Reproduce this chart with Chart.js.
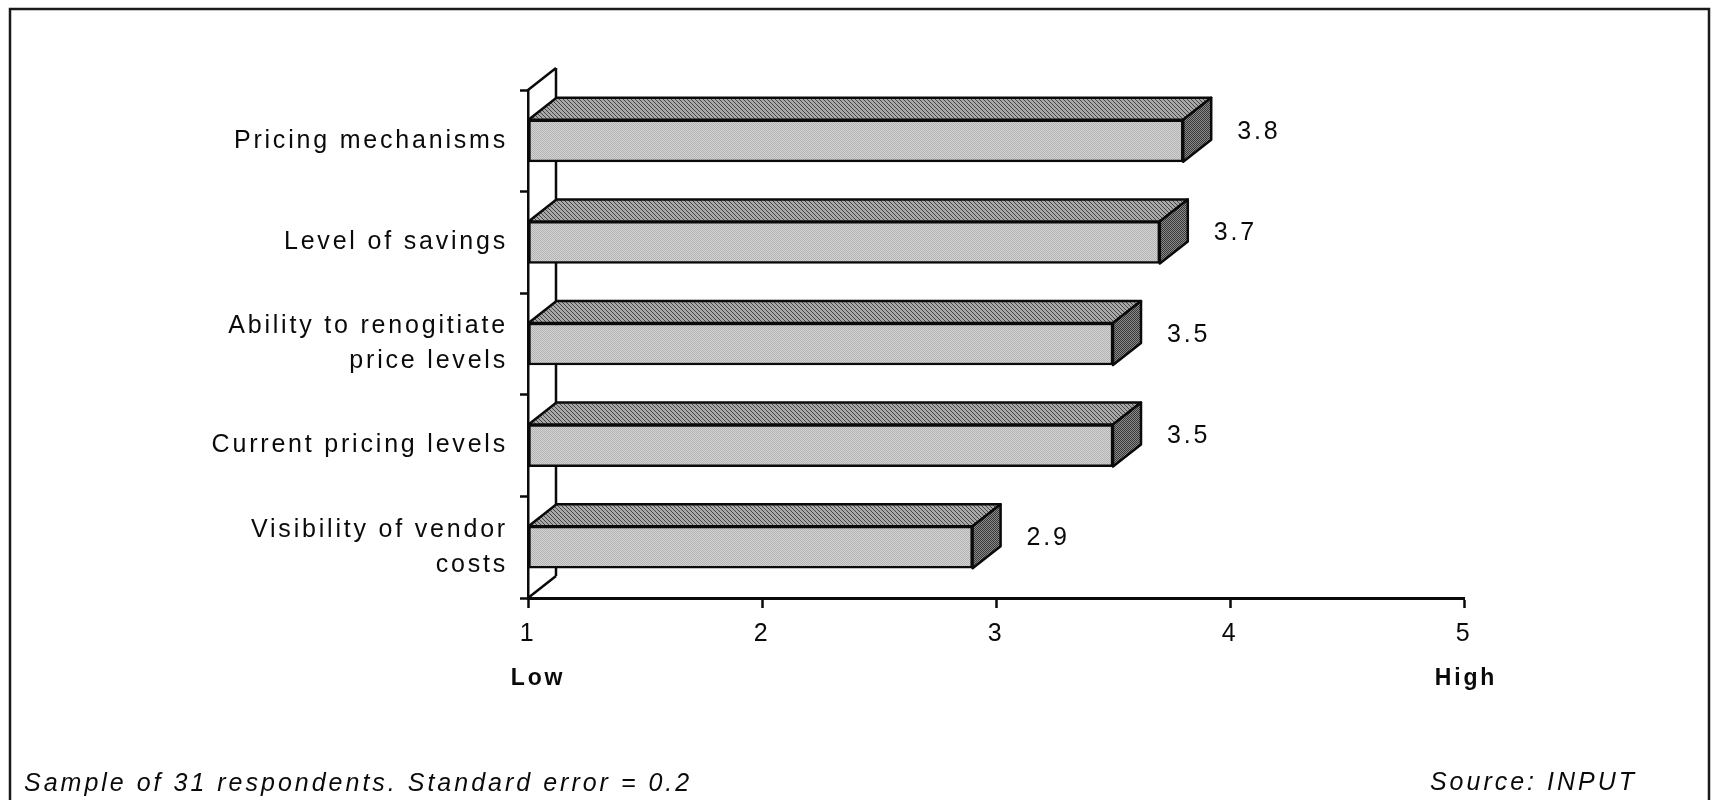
<!DOCTYPE html>
<html>
<head>
<meta charset="utf-8">
<title>Pricing factors rating</title>
<script src="https://cdn.jsdelivr.net/npm/chart.js@4.4.1/dist/chart.umd.min.js"></script>
<style>
  html, body { margin: 0; padding: 0; background: #ffffff; }
  canvas { display: block; }
</style>
</head>
<body>
<canvas id="chart" width="1713" height="800"></canvas>
<script>
// Categories (top to bottom) and their mean ratings on a 1-5 scale
const categories = [
  'Pricing mechanisms',
  'Level of savings',
  ['Ability to renogitiate', 'price levels'],
  'Current pricing levels',
  ['Visibility of vendor', 'costs']
];
const ratings = [3.8, 3.7, 3.5, 3.5, 2.9];
const scaleTicks = [1, 2, 3, 4, 5];
const scaleEnds = ['Low', 'High'];
const footnote = 'Sample of 31 respondents. Standard error = 0.2';
const sourceNote = 'Source: INPUT';

const INK = '#0a0a0a';
const FONT_FAMILY = '"Liberation Sans", Arial, Helvetica, sans-serif';
const FONT_SIZE = 25;
const TRACKING = '2.8px';
const LINE = 2.5;
const DEPTH_X = 28;   // extrusion of the 3-D bars / wall to the right
const DEPTH_Y = 22;   // extrusion upwards

// Small halftone-like fill patterns for the three faces of each bar
function makePattern(size, paint) {
  const c = document.createElement('canvas');
  c.width = c.height = size;
  const g = c.getContext('2d');
  paint(g, size);
  return g.createPattern(c, 'repeat');
}
const frontFill = makePattern(2, (g) => {
  g.fillStyle = '#d2d2d2'; g.fillRect(0, 0, 2, 2);
  g.fillStyle = '#b4b4b4'; g.fillRect(0, 0, 1, 1); g.fillRect(1, 1, 1, 1);
});
const topFill = makePattern(4, (g, n) => {
  g.fillStyle = '#a8a8a8'; g.fillRect(0, 0, n, n);
  g.fillStyle = '#444444';
  for (let i = 0; i < n; i++) g.fillRect(i, i, 1, 1);
});
const sideFill = makePattern(2, (g) => {
  g.fillStyle = '#8a8a8a'; g.fillRect(0, 0, 2, 2);
  g.fillStyle = '#383838'; g.fillRect(0, 0, 1, 1); g.fillRect(1, 1, 1, 1);
});

function poly(ctx, pts, fill) {
  ctx.beginPath();
  ctx.moveTo(pts[0][0], pts[0][1]);
  for (let i = 1; i < pts.length; i++) ctx.lineTo(pts[i][0], pts[i][1]);
  ctx.closePath();
  if (fill) { ctx.fillStyle = fill; ctx.fill(); }
  ctx.stroke();
}

// Draws the 3-D wall, the extruded bar faces, value labels and the notes
const prism = {
  id: 'prism',
  beforeDraw(chart) {
    chart.ctx.letterSpacing = TRACKING;
  },
  beforeDatasetsDraw(chart) {
    const { ctx, chartArea: a } = chart;
    ctx.save();
    ctx.strokeStyle = INK;
    ctx.lineWidth = LINE;
    ctx.beginPath();
    ctx.moveTo(a.left + DEPTH_X, a.top - DEPTH_Y);
    ctx.lineTo(a.left + DEPTH_X, a.bottom - DEPTH_Y);
    ctx.moveTo(a.left, a.top);
    ctx.lineTo(a.left + DEPTH_X, a.top - DEPTH_Y);
    ctx.moveTo(a.left, a.bottom);
    ctx.lineTo(a.left + DEPTH_X, a.bottom - DEPTH_Y);
    ctx.stroke();
    ctx.restore();
  },
  afterDatasetsDraw(chart) {
    const { ctx } = chart;
    const meta = chart.getDatasetMeta(0);
    ctx.save();
    ctx.strokeStyle = INK;
    ctx.lineWidth = LINE;
    ctx.lineJoin = 'round';
    meta.data.forEach((bar, i) => {
      const { x, y, base, height } = bar.getProps(['x', 'y', 'base', 'height'], true);
      const t = y - height / 2, b = y + height / 2;
      poly(ctx, [[base, t], [base + DEPTH_X, t - DEPTH_Y], [x + DEPTH_X, t - DEPTH_Y], [x, t]], topFill);
      poly(ctx, [[x, t], [x + DEPTH_X, t - DEPTH_Y], [x + DEPTH_X, b - DEPTH_Y], [x, b]], sideFill);
      ctx.fillStyle = INK;
      ctx.font = FONT_SIZE + 'px ' + FONT_FAMILY;
      ctx.textAlign = 'left';
      ctx.textBaseline = 'middle';
      ctx.letterSpacing = TRACKING;
      ctx.fillText(ratings[i].toFixed(1), x + DEPTH_X + 26, y - DEPTH_Y / 2 + 2);
    });
    ctx.restore();
  },
  afterDraw(chart) {
    const { ctx } = chart;
    const xs = chart.scales.x;
    ctx.save();
    ctx.letterSpacing = TRACKING;
    ctx.fillStyle = INK;
    ctx.textBaseline = 'middle';

    // scale end captions
    ctx.font = 'bold 23px ' + FONT_FAMILY;
    ctx.textAlign = 'center';
    ctx.fillText(scaleEnds[0], xs.getPixelForValue(scaleTicks[0]) + 10, 679);
    ctx.fillText(scaleEnds[1], xs.getPixelForValue(scaleTicks[scaleTicks.length - 1]) + 2, 679);

    // notes along the bottom
    ctx.letterSpacing = '3px';
    ctx.font = 'italic ' + FONT_SIZE + 'px ' + FONT_FAMILY;
    ctx.textAlign = 'left';
    ctx.fillText(footnote, 24, 784);
    ctx.textAlign = 'right';
    ctx.fillText(sourceNote, 1637, 783);

    // frame
    ctx.strokeStyle = '#1a1a1a';
    ctx.lineWidth = 2.5;
    ctx.beginPath();
    ctx.moveTo(10, 800);
    ctx.lineTo(10, 9);
    ctx.lineTo(1709, 9);
    ctx.lineTo(1709, 800);
    ctx.stroke();
    ctx.restore();
  }
};

new Chart(document.getElementById('chart').getContext('2d'), {
  type: 'bar',
  data: {
    labels: categories,
    datasets: [{
      data: ratings,
      base: scaleTicks[0],
      backgroundColor: frontFill,
      borderColor: INK,
      borderWidth: LINE,
      borderSkipped: false,
      barThickness: 42
    }]
  },
  options: {
    indexAxis: 'y',
    responsive: false,
    animation: false,
    devicePixelRatio: 1,
    layout: { padding: { top: 90, right: 249, bottom: 142, left: 0 } },
    plugins: {
      legend: { display: false },
      tooltip: { enabled: false }
    },
    scales: {
      x: {
        type: 'linear',
        min: scaleTicks[0],
        max: scaleTicks[scaleTicks.length - 1],
        afterBuildTicks: (s) => { s.ticks = scaleTicks.map((v) => ({ value: v })); },
        ticks: {
          color: INK,
          font: { family: FONT_FAMILY, size: FONT_SIZE },
          padding: 11,
          maxRotation: 0,
          autoSkip: false
        },
        grid: { drawOnChartArea: false, tickLength: 10, tickWidth: LINE, tickColor: INK },
        border: { color: INK, width: 3 },
        afterFit: (s) => { s.height = 60; }
      },
      y: {
        ticks: {
          color: INK,
          font: { family: FONT_FAMILY, size: FONT_SIZE, lineHeight: 1.4 },
          padding: 12,
          autoSkip: false
        },
        grid: { drawOnChartArea: false, offset: true, tickLength: 8, tickWidth: LINE, tickColor: INK },
        border: { color: INK, width: LINE },
        afterFit: (s) => { s.width = 528; }
      }
    }
  },
  plugins: [prism]
});
</script>
</body>
</html>
